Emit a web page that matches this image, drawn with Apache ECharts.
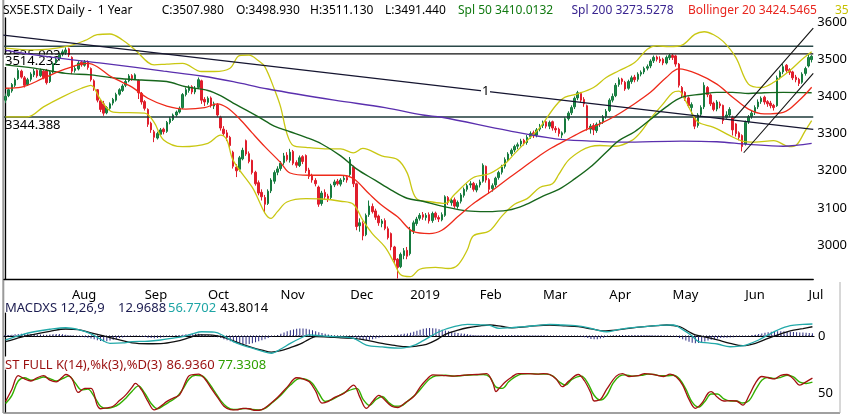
<!DOCTYPE html>
<html><head><meta charset="utf-8">
<script src="https://cdn.jsdelivr.net/npm/echarts@6/dist/echarts.min.js"></script>
<style>html,body{margin:0;padding:0;background:#fff}#c{width:850px;height:417px}</style>
</head><body><div id="c"></div>
<script>
// ---- categories (trading days) ----
const holidays = ['2018-12-25','2018-12-26','2019-01-01','2019-04-19','2019-04-22'];
const tickLabels = ['Aug','Sep','Oct','Nov','Dec','2019','Feb','Mar','Apr','May','Jun','Jul'];
const yTicks = [3000,3100,3200,3300,3400,3500,3600];
// ---- price bars [open, close, low, high] ----
const ohlc = [
[3390,3400,3382,3408],[3402,3418,3398,3422],[3415,3432,3410,3436],[3430,3445,3425,3450],[3448,3470,3444,3476],
[3468,3452,3448,3472],[3450,3430,3424,3455],[3432,3445,3428,3450],[3446,3460,3440,3465],[3458,3468,3452,3474],
[3470,3455,3450,3473],[3456,3470,3452,3475],[3468,3450,3446,3472],[3470,3437,3432,3474],[3440,3465,3436,3469],
[3466,3488,3462,3492],[3490,3500,3485,3506],[3502,3512,3496,3518],[3514,3520,3508,3526],[3518,3525,3512,3532],
[3528,3512,3506,3531],
[3505,3468,3460,3508],[3470,3475,3464,3482],[3474,3490,3470,3495],[3492,3485,3480,3496],[3484,3492,3480,3498],
[3494,3478,3472,3497],[3475,3445,3440,3478],[3442,3420,3415,3446],[3418,3390,3384,3420],[3388,3365,3358,3392],
[3380,3355,3348,3388],[3356,3370,3352,3374],[3368,3380,3364,3384],[3382,3392,3376,3396],[3390,3405,3386,3410],
[3406,3418,3402,3422],[3416,3428,3412,3433],[3430,3440,3425,3446],[3442,3455,3438,3460],[3456,3448,3442,3460],
[3447,3458,3444,3462],[3443,3410,3393,3446],[3408,3385,3378,3412],
[3386,3368,3362,3390],[3365,3325,3318,3368],[3328,3310,3302,3332],[3305,3290,3277,3310],[3288,3300,3284,3305],
[3298,3310,3294,3315],[3312,3305,3298,3316],[3306,3330,3302,3334],[3330,3340,3325,3345],[3338,3350,3334,3354],
[3350,3358,3345,3362],[3358,3368,3354,3373],[3370,3405,3366,3409],[3405,3418,3400,3424],[3416,3425,3410,3430],
[3426,3412,3406,3430],[3412,3422,3406,3428],[3424,3445,3420,3451],[3442,3390,3380,3445],[3392,3385,3374,3398],
[3384,3395,3378,3400],[3396,3375,3370,3400],[3374,3380,3366,3386],[3378,3350,3344,3382],[3344,3315,3308,3348],
[3312,3300,3294,3320],[3302,3290,3280,3310],[3290,3268,3262,3294],[3250,3212,3206,3254],[3210,3200,3183,3218],
[3204,3235,3198,3240],[3232,3255,3228,3262],[3281,3245,3240,3284],[3246,3225,3220,3252],[3228,3195,3190,3230],
[3196,3165,3160,3200],[3168,3140,3134,3174],[3142,3130,3120,3150],[3128,3110,3089,3135],[3112,3145,3108,3150],
[3146,3175,3140,3180],[3172,3195,3165,3201],[3196,3205,3188,3212],
[3206,3220,3200,3226],[3222,3240,3216,3248],[3242,3230,3225,3250],[3228,3250,3222,3259],[3252,3220,3215,3256],
[3222,3215,3208,3228],[3214,3235,3210,3241],[3238,3225,3218,3242],[3241,3200,3194,3244],[3202,3185,3178,3208],
[3188,3175,3168,3192],[3174,3165,3158,3180],[3156,3110,3103,3160],[3112,3140,3106,3146],[3142,3130,3122,3150],
[3132,3125,3116,3138],[3128,3160,3124,3165],[3162,3170,3156,3176],[3172,3165,3160,3178],[3164,3175,3158,3180],
[3176,3180,3170,3186],[3182,3175,3168,3188],
[3190,3230,3186,3237],[3210,3165,3156,3214],[3165,3050,3040,3168],[3052,3060,3036,3072],[3058,3025,3013,3064],
[3028,3080,3024,3085],[3082,3105,3076,3120],[3104,3090,3085,3112],[3092,3075,3068,3098],[3078,3060,3052,3082],
[3058,3065,3048,3070],[3066,3045,3040,3072],[3044,3020,3015,3050],[3031,2995,2986,3034],[2995,2960,2950,2998],
[2962,2940,2910,2965],[2942,2975,2938,2980],[2972,2985,2962,2992],[2986,2970,2962,2995],
[2977,3040,2972,3049],[3038,3060,3030,3066],[3058,3070,3052,3076],[3072,3080,3066,3086],[3082,3075,3068,3089],
[3074,3080,3066,3086],[3082,3065,3058,3088],[3066,3085,3060,3090],[3086,3075,3068,3090],[3074,3070,3062,3080],
[3068,3082,3064,3088],[3080,3130,3076,3134],[3128,3115,3108,3132],[3114,3120,3106,3126],[3122,3105,3100,3128],
[3104,3115,3098,3120],[3118,3135,3112,3140],[3134,3150,3128,3155],[3150,3160,3144,3165],[3162,3165,3154,3172],
[3166,3150,3144,3170],[3148,3160,3142,3166],
[3162,3170,3155,3176],[3172,3215,3168,3220],[3212,3175,3168,3214],[3176,3150,3138,3180],[3152,3160,3144,3166],
[3162,3180,3156,3184],[3182,3195,3176,3200],[3196,3210,3190,3216],[3212,3230,3206,3236],[3228,3245,3224,3250],
[3246,3255,3240,3260],[3256,3265,3250,3270],[3266,3270,3258,3276],[3272,3280,3265,3286],[3282,3275,3268,3286],
[3276,3290,3270,3296],[3292,3300,3286,3306],[3302,3295,3288,3308],[3296,3310,3290,3315],[3312,3320,3306,3326],
[3322,3330,3315,3335],[3332,3320,3314,3336],[3320,3330,3312,3335],[3332,3315,3308,3335],[3314,3310,3302,3320],
[3312,3300,3292,3316],[3296,3302,3288,3306],[3304,3340,3300,3344],[3340,3355,3335,3360],[3356,3370,3350,3376],
[3372,3395,3366,3400],[3396,3410,3390,3415],[3408,3390,3384,3412],[3392,3380,3372,3398],[3375,3315,3308,3378],
[3312,3320,3300,3326],[3322,3310,3296,3328],[3308,3325,3302,3330],[3326,3330,3318,3336],[3332,3345,3326,3350],
[3346,3360,3340,3366],
[3362,3390,3358,3395],[3390,3400,3384,3408],[3402,3430,3398,3436],[3432,3445,3426,3451],[3447,3440,3432,3450],
[3438,3420,3415,3442],[3422,3440,3418,3445],[3440,3450,3434,3456],[3452,3445,3438,3458],[3446,3460,3440,3465],
[3460,3465,3454,3470],[3466,3475,3460,3480],[3476,3480,3470,3486],[3482,3495,3476,3500],[3496,3505,3490,3510],
[3506,3500,3494,3510],[3500,3495,3490,3508],[3500,3490,3484,3504],[3490,3505,3486,3510],[3504,3510,3498,3514],
[3510,3505,3498,3514],[3509,3487,3480,3512],[3487,3430,3424,3490],[3424,3405,3398,3428],[3411,3395,3388,3414],
[3396,3375,3370,3400],[3370,3378,3352,3384],[3344,3320,3312,3348],[3322,3350,3316,3355],[3352,3370,3346,3376],
[3372,3430,3366,3438],[3424,3405,3398,3428],[3404,3380,3374,3408],[3382,3365,3360,3386],[3366,3385,3360,3390],
[3380,3375,3368,3386],[3376,3335,3326,3378],[3344,3350,3340,3360],[3350,3365,3344,3371],[3344,3310,3295,3348],
[3326,3300,3292,3328],[3302,3290,3282,3306],[3295,3265,3252,3298],
[3272,3330,3268,3335],[3332,3345,3326,3350],[3346,3355,3340,3362],[3356,3370,3350,3376],[3372,3385,3366,3392],
[3386,3395,3380,3400],[3398,3385,3378,3402],[3386,3380,3372,3390],[3382,3375,3368,3388],[3376,3370,3362,3380],
[3375,3450,3372,3456],[3452,3465,3446,3470],[3466,3480,3460,3487],[3484,3470,3464,3487],[3472,3465,3458,3476],
[3466,3450,3444,3469],[3452,3445,3438,3458],[3446,3435,3428,3450],[3438,3460,3434,3465],[3462,3475,3456,3480],
[3482,3505,3478,3514],[3498.93,3507.98,3491.44,3511.13]
];
// ---- indicator lines, read at sample bars [barIndex, value] ----
const sma50 = [[0,3485],[9,3476],[19,3462],[27,3458],[35,3449],[43,3444],[51,3440],[57,3426],[64,3416],[68,3402],[72,3382],[76,3364],[80,3345],[85,3320],[90,3305],[95,3290],[100,3272],[106,3240],[111,3205],[117,3174],[122,3148],[127,3126],[132,3118],[138,3105],[146,3092],[152,3090],[159,3094],[164,3107],[170,3132],[175,3150],[180,3178],[185,3210],[190,3250],[194,3281],[199,3305],[204,3338],[209,3372],[214,3398],[220,3406],[225,3411],[230,3411],[235,3408],[240,3410],[246,3411],[255,3410.01]];
const sma200 = [[0,3524],[15,3505],[31,3489],[50,3468],[62,3455],[72,3440],[83,3420],[104,3390],[120,3370],[132,3350],[138,3344],[159,3308],[174,3286],[185,3280],[195,3277],[214,3280],[225,3278],[235,3271],[246,3266],[255,3273.53]];
const bbMid = [[0,3422],[5,3425],[12,3449],[19,3474],[26,3489],[29,3480],[33,3455],[37,3438],[40,3425],[45,3395],[51,3374],[57,3366],[63,3370],[67,3380],[70,3370],[74,3340],[78,3302],[82,3265],[87,3222],[90,3194],[96,3188],[101,3188],[106,3188],[110,3179],[115,3138],[119,3107],[124,3076],[129,3036],[134,3031],[138,3040],[143,3076],[148,3112],[154,3147],[159,3179],[164,3210],[169,3241],[172,3258],[177,3281],[183,3308],[188,3326],[193,3348],[198,3375],[204,3411],[209,3451],[213,3474],[219,3460],[225,3433],[230,3398],[235,3366],[240,3353],[246,3357],[251,3389],[255,3424.55]];
const bbUpper = [[0,3530],[9,3525],[19,3534],[25,3550],[29,3566],[33,3568],[37,3552],[41,3525],[47,3485],[51,3487],[56,3489],[62,3467],[66,3467],[71,3476],[74,3510],[77,3511],[80,3496],[82,3480],[85,3420],[87,3372],[89,3300],[91,3268],[95,3263],[101,3259],[106,3259],[110,3248],[113,3260],[119,3240],[124,3230],[127,3195],[130,3125],[135,3116],[139,3112],[142,3136],[148,3182],[153,3192],[158,3219],[161,3246],[165,3281],[169,3316],[174,3375],[177,3398],[181,3407],[186,3424],[190,3451],[194,3469],[199,3491],[203,3527],[206,3536],[210,3534],[214,3538],[218,3567],[221,3574],[224,3566],[227,3548],[231,3505],[235,3433],[239,3424],[243,3438],[248,3469],[252,3500],[255,3520]];
const bbLower = [[0,3345],[7,3345],[12,3372],[18,3399],[24,3422],[27,3430],[30,3392],[34,3358],[44,3355],[47,3330],[50,3283],[56,3265],[64,3274],[68,3296],[70,3283],[72,3228],[78,3156],[84,3072],[86,3090],[89,3116],[95,3125],[100,3124],[106,3118],[110,3110],[113,3067],[116,3031],[120,2995],[123,2951],[125,2920],[128,2915],[131,2935],[136,2940],[140,2937],[143,2946],[146,2986],[148,3025],[153,3038],[157,3078],[161,3110],[165,3125],[169,3155],[173,3165],[175,3190],[178,3228],[182,3254],[185,3265],[188,3268],[193,3266],[198,3281],[201,3305],[204,3340],[208,3380],[211,3410],[213,3414],[215,3390],[217,3357],[219,3331],[224,3317],[229,3295],[233,3280],[237,3277],[243,3281],[248,3265],[250,3268],[253,3308],[255,3335]];
// ---- drawn levels / trend lines ----
const levels = [3535.003, 3514.232, 3344.388];
const trend1 = [[-0.72,3565],[255.5,3311.5]];
const channelUp = [[230.5,3341],[255.5,3584]];
const channelLow = [[233.5,3248.5],[255.5,3462]];
// ---- MACD (12,26,9) ----
const macdLine = [[0,-19],[5,5],[9,20],[14,32],[19,39],[23,30],[27,10],[30,-15],[33,-35],[37,-33],[40,-27],[45,-25],[49,-19],[53,-10],[56,-3],[59,10],[62,20],[66,18],[69,0],[72,-27],[75,-45],[78,-58],[81,-72],[84,-82],[87,-62],[90,-35],[93,-12],[96,5],[100,0],[104,-3],[110,-11],[114,-43],[119,-52],[125,-58],[129,-45],[132,-22],[137,20],[142,45],[146,55],[150,53],[153,50],[156,36],[160,40],[164,44],[168,50],[172,55],[176,52],[180,49],[184,40],[187,28],[190,20],[193,28],[196,36],[200,42],[204,47],[208,51],[211,52],[214,30],[217,0],[219,-27],[222,-33],[225,-38],[229,-51],[232,-48],[234,-43],[238,-19],[241,5],[244,28],[248,49],[252,55],[255,56.77]];
const macdSignal = [[0,-27],[5,-5],[9,8],[14,22],[19,33],[23,30],[27,15],[31,0],[35,-15],[40,-33],[45,-37],[50,-35],[55,-22],[58,-8],[61,5],[64,5],[67,0],[70,-12],[74,-35],[78,-55],[81,-67],[84,-77],[87,-70],[90,-55],[93,-39],[96,-15],[98,-3],[102,-5],[106,-9],[110,-11],[114,-20],[119,-35],[123,-45],[127,-51],[130,-48],[133,-40],[136,-20],[139,8],[143,28],[146,39],[150,48],[153,52],[157,45],[160,39],[165,45],[172,52],[177,48],[181,44],[185,34],[189,24],[193,28],[197,36],[202,44],[206,49],[209,52],[213,44],[216,20],[218,5],[222,-8],[225,-19],[229,-35],[233,-46],[237,-35],[241,-11],[245,10],[248,24],[252,35],[255,43.80]];
const macdHist = [
3,5,6,8,9,10,10,9,8,8,7,7,6,6,7,8,9,9,8,6,4,
2,0,-2,-4,-6,-9,-12,-16,-20,-24,-26,-25,-22,-18,-14,-10,-7,-4,-2,0,1,0,-2,
-5,-8,-10,-11,-10,-8,-6,-4,-2,0,2,4,6,8,9,10,11,10,8,5,
3,1,-2,-6,-10,-15,-20,-25,-30,-35,-38,-40,-40,-38,-35,-30,-25,-20,-15,-10,-5,0,5,
10,16,22,27,31,34,36,36,34,31,27,23,18,14,10,7,4,2,1,0,-1,-2,
-3,-6,-10,-14,-18,-20,-18,-15,-12,-9,-6,-3,0,2,4,6,8,10,12,
15,20,25,30,34,37,38,37,35,32,29,26,23,20,17,14,12,10,8,6,5,4,
4,4,3,3,3,3,3,3,3,3,3,3,3,2,2,2,2,2,2,2,
2,1,0,-1,-2,-2,-2,-1,0,0,0,-1,-3,-6,-10,-14,-16,-15,-12,-8,-4,
0,2,4,5,5,4,3,3,3,3,3,3,3,3,2,2,2,1,1,0,
-2,-5,-10,-16,-22,-27,-32,-34,-33,-30,-26,-22,-18,-15,-12,-10,-9,-8,-7,-6,-5,-4,-3,
-2,0,3,6,9,12,15,18,20,22,23,23,22,21,20,19,18,17,16,15,14,13.0
];
// ---- Stochastic full K(14),%k(3),%D(3) ----
const stochK = [[0,30],[2,60],[4,93],[6,85],[8,80],[10,88],[12,93],[14,82],[16,78],[18,90],[19,96],[21,85],[23,52],[25,62],[27,62],[29,20],[30,12],[32,14],[34,18],[36,32],[38,46],[40,65],[41,74],[43,58],[45,30],[47,9],[49,18],[51,30],[53,38],[55,46],[57,80],[58,93],[60,96],[61,97],[63,85],[65,62],[67,40],[69,18],[71,10],[73,9],[75,13],[77,12],[79,8],[81,10],[83,20],[86,40],[89,65],[92,88],[94,85],[96,78],[98,55],[100,26],[102,30],[104,40],[107,50],[110,70],[112,40],[114,13],[116,30],[118,45],[120,32],[122,18],[124,15],[126,25],[129,42],[131,65],[133,83],[135,95],[138,94],[141,92],[143,93],[146,95],[149,96],[152,98],[154,75],[155,54],[156,62],[158,78],[160,90],[162,98],[165,98],[168,97],[170,98],[172,96],[174,85],[176,66],[178,80],[181,96],[183,80],[185,50],[186,31],[188,35],[190,60],[193,92],[195,98],[197,91],[200,93],[202,98],[204,97],[206,94],[208,91],[210,97],[212,90],[214,70],[216,35],[218,13],[220,25],[222,50],[223,54],[225,40],[227,31],[229,32],[231,31],[233,21],[235,45],[237,75],[239,91],[241,88],[243,85],[245,94],[247,96],[249,85],[251,70],[253,78],[255,86.94]];
const stochD = [[0,25],[2,45],[4,80],[6,88],[8,82],[10,85],[12,90],[14,86],[16,80],[18,86],[20,92],[22,75],[24,58],[26,60],[28,42],[30,18],[32,13],[34,16],[36,24],[38,38],[40,55],[42,68],[44,50],[46,25],[48,12],[50,20],[52,30],[54,40],[56,60],[58,85],[60,94],[62,93],[64,78],[66,55],[68,32],[70,16],[72,10],[74,11],[76,13],[78,10],[80,9],[82,13],[84,25],[87,45],[90,70],[93,86],[95,84],[97,74],[99,50],[101,30],[103,34],[105,42],[108,55],[111,62],[113,35],[115,20],[117,34],[119,42],[121,28],[123,18],[125,19],[127,30],[130,50],[132,68],[134,85],[136,93],[139,94],[142,92],[145,94],[148,95],[151,96],[153,90],[155,65],[157,62],[159,78],[161,90],[163,97],[166,98],[169,97],[171,97],[173,92],[175,78],[177,70],[179,84],[182,92],[184,75],[186,45],[188,33],[190,45],[192,75],[194,92],[196,95],[198,92],[201,94],[203,97],[205,96],[207,93],[209,93],[211,94],[213,85],[215,60],[217,28],[219,16],[221,30],[223,48],[225,48],[227,36],[229,31],[231,31],[233,26],[235,32],[237,58],[239,82],[241,89],[243,86],[245,89],[247,94],[249,90],[251,77],[253,74],[255,77.33]];

// ---- build categories ----
const dates = [];
for (let t = Date.UTC(2018,6,3); t <= Date.UTC(2019,6,2); t += 864e5) {
  const d = new Date(t), wd = d.getUTCDay(), s = d.toISOString().slice(0,10);
  if (wd === 0 || wd === 6 || holidays.includes(s)) continue;
  dates.push(s);
}
const monthStart = {};
let k = 0;
for (let i = 1; i < dates.length; i++) {
  if (dates[i].slice(0,7) !== dates[i-1].slice(0,7)) monthStart[i] = tickLabels[k++];
}
const FONT = '"Noto Sans", "DejaVu Sans", sans-serif';

const chart = echarts.init(document.getElementById('c'), null, {renderer:'canvas'});
const lineS = (name, data, color, xi, yi, w, extra) => Object.assign({
  name, type:'line', data, xAxisIndex:xi, yAxisIndex:yi, symbol:'none', smooth:0.35,
  lineStyle:{color, width:w||1.3}, silent:true, z:3
}, extra||{});

const txt = (x,y,text,fill,size,z) => ({type:'text', x, y, z:z||1,
  style:{text, fill, font: size + 'px ' + FONT, verticalAlign:'middle', align:'left'}});

const series = [
  {type:'candlestick', xAxisIndex:0, yAxisIndex:0, data:ohlc, barWidth:2, z:2,
   itemStyle:{color:'#1d8a4a', color0:'#e01e2c', borderColor:'#167a3e', borderColor0:'#e01e2c', borderWidth:1}},
  lineS('l1', [[-0.5,levels[0]],[255.5,levels[0]]], '#2a4848', 1, 0, 1.5, {smooth:false}),
  lineS('l2', [[-0.5,levels[1]],[255.5,levels[1]]], '#111111', 1, 0, 1.3, {smooth:false}),
  lineS('l3', [[-0.5,levels[2]],[255.5,levels[2]]], '#1e3a3a', 1, 0, 1.5, {smooth:false}),
  lineS('bbU', bbUpper, '#c9c712', 1, 0, 1.3),
  lineS('bbL', bbLower, '#c9c712', 1, 0, 1.3),
  lineS('sma200', sma200, '#5a2fae', 1, 0, 1.3),
  lineS('sma50', sma50, '#17661c', 1, 0, 1.4),
  lineS('bbM', bbMid, '#ee2a1a', 1, 0, 1.3),
  lineS('t1', trend1, '#151530', 1, 0, 1.3, {smooth:false}),
  lineS('cu', channelUp, '#111111', 1, 0, 1.1, {smooth:false}),
  lineS('cl', channelLow, '#111111', 1, 0, 1.1, {smooth:false}),
  // MACD
  {type:'bar', xAxisIndex:2, yAxisIndex:1, data: macdHist.map((v,i)=>[i,v]), barWidth:1,
   itemStyle:{color:'#2a2a80'}, silent:true, z:2},
  lineS('zero', [[-0.5,0],[255.5,0]], '#1a1a40', 2, 1, 1, {smooth:false, lineStyle:{color:'#1a1a40', width:1, type:[1,2]}}),
  lineS('signal', macdSignal, '#111111', 2, 1, 1.3),
  lineS('macd', macdLine, '#22a9a9', 2, 1, 1.3),
  // Stochastic
  lineS('D', stochD, '#33b000', 3, 2, 1.4),
  lineS('K', stochK, '#a31010', 3, 2, 1.3)
];

const graphic = [
  {type:'rect', z:0, shape:{x:3.3,y:-2,width:0,height:415}, style:{stroke:'#9a9a9a', lineWidth:2}},
  {type:'line', z:0, shape:{x1:3.3,y1:413,x2:840,y2:413}, style:{stroke:'#a0a0a0', lineWidth:2}},
  {type:'line', z:0, shape:{x1:840,y1:282,x2:840,y2:413}, style:{stroke:'#b0b0b0', lineWidth:1}},
  txt(3,11,'SX5E.STX Daily -  1 Year','#000',12),
  txt(161.7,11,'C:3507.980','#000',12),
  txt(236,11,'O:3498.930','#000',12),
  txt(310,11,'H:3511.130','#000',12),
  txt(385,11,'L:3491.440','#000',12),
  txt(458,11,'Spl 50 3410.0132','#127a12',12),
  txt(571.5,11,'Spl 200 3273.5278','#3a2590',12),
  txt(688,11,'Bollinger 20 3424.5465','#e8251e',12),
  txt(835,11,'35','#c6c000',12),
  txt(5,55,'3535.003','#000',13,0),
  {type:'rect', z:1, shape:{x:4,y:54.6,width:60,height:12.5}, style:{fill:'#fff'}},
  txt(5,61.5,'3514.232','#000',13,1),
  txt(5,125.5,'3344.388','#000',13,1),
  {type:'rect', z:10, shape:{x:481,y:85,width:9,height:13}, style:{fill:'#fff'}},
  txt(482,91.5,'1','#000',13,11),
  txt(5,308.5,'MACDXS 12,26,9','#1c1c50',13),
  txt(118,308.5,'12.9688','#1c1c50',13),
  txt(168,308.5,'56.7702','#1ea5a5',13),
  txt(220,308.5,'43.8014','#000',13),
  txt(5,365,'ST FULL K(14),%k(3),%D(3)','#9a1010',13),
  txt(166.5,365,'86.9360','#9a1010',13),
  txt(218,365,'77.3308','#2ea000',13)
];

const valX = (gi, showLine) => ({type:'value', gridIndex:gi, min:-0.5, max:255.5, show:true,
  position:'bottom',
  axisLine:{show:!!showLine, lineStyle:{color:'#000', width:1.2}}, axisTick:{show:false},
  axisLabel:{show:false}, splitLine:{show:false}});
const plain = (v) => String(v);

chart.setOption({
  animation:false,
  backgroundColor:'#fff',
  grid:[
    {left:4, right:36, top:18, height:261.3},
    {left:4, right:36, top:313, height:43},
    {left:4, right:36, top:370, height:42}
  ],
  xAxis:[
    {type:'category', gridIndex:0, data:dates, boundaryGap:true,
     axisLine:{lineStyle:{color:'#000', width:1.3}},
     axisTick:{interval:(i)=>monthStart[i]!==undefined, length:6, lineStyle:{color:'#000', width:1.2}},
     axisLabel:{interval:(i)=>monthStart[i]!==undefined, formatter:(v,i)=>monthStart[i]||'',
       align:'left', margin:9, color:'#000', fontSize:13, fontFamily:FONT},
     splitLine:{show:false}},
    Object.assign(valX(0,false), {position:'top', show:false}),
    valX(1,true),
    Object.assign(valX(2,false), {show:false})
  ],
  yAxis:[
    {type:'value', gridIndex:0, position:'right', min:2908, max:3611, scale:true,
     axisLine:{show:true, lineStyle:{color:'#000', width:1.3}}, axisTick:{show:false},
     axisLabel:{customValues:yTicks, formatter:plain, color:'#000', fontSize:13, fontFamily:FONT, margin:4},
     splitLine:{show:false}},
    {type:'value', gridIndex:1, position:'right', min:-95, max:109,
     axisLine:{show:true, lineStyle:{color:'#000', width:1.2}}, axisTick:{show:false},
     axisLabel:{customValues:[0], formatter:plain, color:'#000', fontSize:13, fontFamily:FONT, margin:4},
     splitLine:{show:false}},
    {type:'value', gridIndex:2, position:'right', min:4, max:107,
     axisLine:{show:true, lineStyle:{color:'#000', width:1.2}}, axisTick:{show:false},
     axisLabel:{customValues:[50], formatter:plain, color:'#000', fontSize:13, fontFamily:FONT, margin:4},
     splitLine:{show:false}}
  ],
  series,
  graphic
});
</script></body></html>
